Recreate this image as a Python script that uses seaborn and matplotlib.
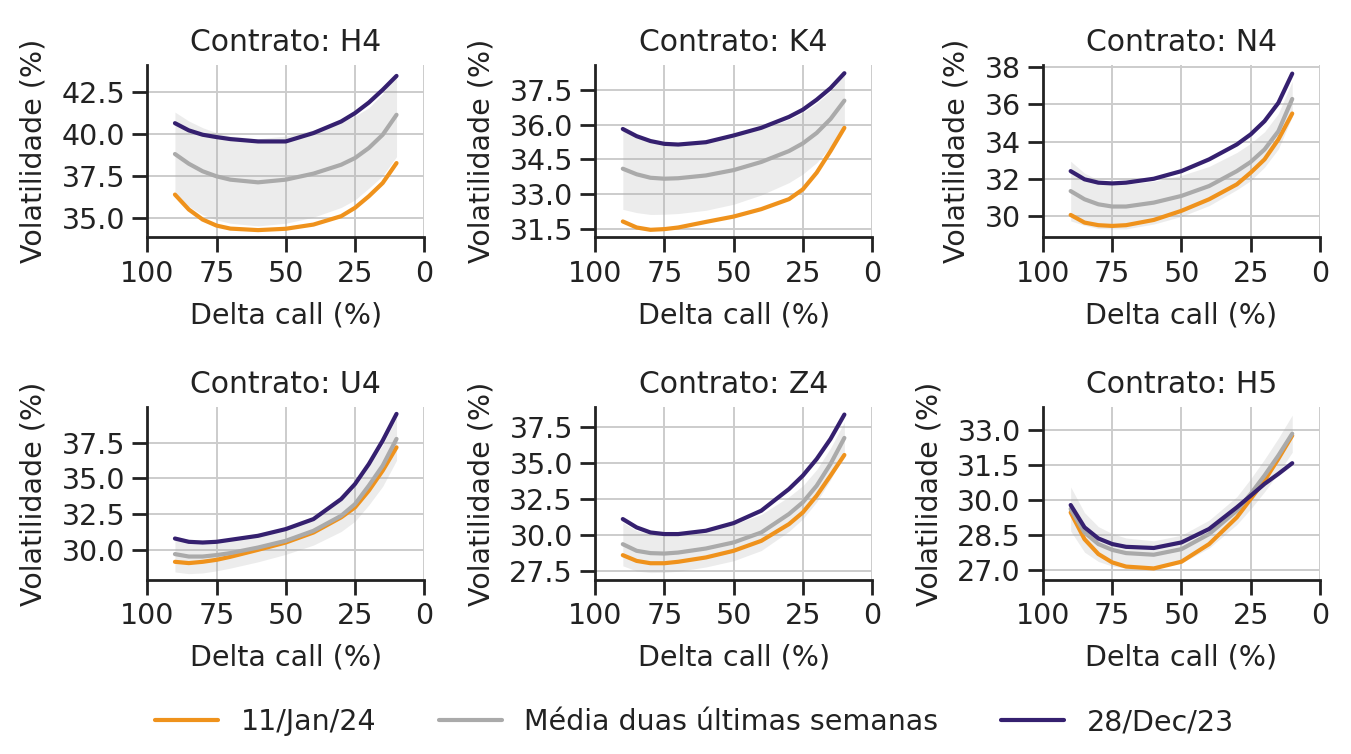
import pandas as pd
import numpy as np
import matplotlib
matplotlib.use('Agg')
import matplotlib.pyplot as plt
import seaborn as sns
from matplotlib.lines import Line2D

# --- DADOS ---
delta = [90, 85, 80, 75, 70, 60, 50, 40, 30, 25, 20, 15, 10]
contratos = ['H4', 'K4', 'N4', 'U4', 'Z4', 'H5']
series = ['11/Jan/24', 'Média duas últimas semanas', '28/Dec/23']

h4_jan = [36.41, 35.52, 34.92, 34.56, 34.38, 34.29, 34.37, 34.62, 35.12, 35.62, 36.31, 37.10, 38.29]
h4_media = [38.83, 38.25, 37.80, 37.50, 37.30, 37.14, 37.30, 37.66, 38.19, 38.59, 39.19, 39.98, 41.17]
h4_dec = [40.67, 40.24, 39.98, 39.84, 39.72, 39.58, 39.58, 40.08, 40.77, 41.27, 41.90, 42.66, 43.49]
h4_banda = [2.5, 2.55, 2.6, 2.6, 2.6, 2.6, 2.6, 2.6, 2.55, 2.5, 2.4, 2.45, 2.5]

k4_jan = [31.83, 31.57, 31.47, 31.50, 31.57, 31.81, 32.04, 32.36, 32.79, 33.21, 33.93, 34.86, 35.86]
k4_media = [34.10, 33.86, 33.71, 33.67, 33.69, 33.81, 34.04, 34.39, 34.86, 35.19, 35.64, 36.24, 37.03]
k4_dec = [35.81, 35.50, 35.29, 35.17, 35.14, 35.24, 35.53, 35.86, 36.33, 36.64, 37.07, 37.57, 38.21]
k4_banda = [1.75, 1.65, 1.58, 1.53, 1.52, 1.5, 1.47, 1.42, 1.36, 1.32, 1.28, 1.2, 1.1]

n4_jan = [30.07, 29.66, 29.52, 29.48, 29.52, 29.80, 30.29, 30.91, 31.71, 32.34, 33.05, 34.12, 35.51]
n4_media = [31.35, 30.91, 30.64, 30.52, 30.52, 30.73, 31.09, 31.62, 32.42, 32.91, 33.58, 34.56, 36.29]
n4_dec = [32.42, 31.98, 31.80, 31.76, 31.80, 32.01, 32.42, 33.05, 33.85, 34.39, 35.10, 36.08, 37.65]
n4_banda = [1.6, 1.4, 1.3, 1.2, 1.2, 1.15, 1.1, 1.05, 1.0, 1.0, 0.95, 0.95, 0.95]

u4_jan = [29.16, 29.07, 29.16, 29.30, 29.51, 30.00, 30.51, 31.21, 32.27, 32.97, 34.14, 35.54, 37.17]
u4_media = [29.70, 29.53, 29.53, 29.63, 29.77, 30.16, 30.63, 31.33, 32.38, 33.20, 34.49, 35.89, 37.76]
u4_dec = [30.79, 30.56, 30.51, 30.56, 30.70, 30.98, 31.45, 32.15, 33.55, 34.60, 36.00, 37.64, 39.51]
u4_banda = [1.25, 1.2, 1.15, 1.1, 1.05, 1.0, 0.95, 1.0, 1.1, 1.2, 1.35, 1.45, 1.5]

z4_jan = [28.59, 28.19, 28.03, 28.03, 28.13, 28.43, 28.89, 29.58, 30.74, 31.55, 32.71, 34.10, 35.53]
z4_media = [29.35, 28.89, 28.73, 28.70, 28.77, 29.05, 29.47, 30.16, 31.44, 32.25, 33.40, 34.91, 36.71]
z4_dec = [31.09, 30.51, 30.16, 30.05, 30.05, 30.28, 30.81, 31.67, 33.17, 34.10, 35.25, 36.64, 38.33]
z4_banda = [1.5, 1.4, 1.35, 1.3, 1.3, 1.28, 1.27, 1.25, 1.2, 1.15, 1.12, 1.1, 1.1]

h5_jan = [29.47, 28.32, 27.68, 27.32, 27.14, 27.06, 27.35, 28.11, 29.26, 30.05, 30.84, 31.78, 32.78]
h5_media = [29.62, 28.61, 28.11, 27.86, 27.72, 27.65, 27.89, 28.54, 29.55, 30.27, 31.06, 31.92, 32.86]
h5_dec = [29.79, 28.83, 28.35, 28.11, 27.99, 27.94, 28.18, 28.76, 29.69, 30.19, 30.70, 31.13, 31.59]
h5_banda = [0.95, 0.85, 0.75, 0.7, 0.65, 0.6, 0.6, 0.6, 0.6, 0.65, 0.7, 0.75, 0.8]

# ticks e limites do eixo y de cada contrato
yticks = {
    'H4': [35.0, 37.5, 40.0, 42.5],
    'K4': [31.5, 33.0, 34.5, 36.0, 37.5],
    'N4': [30, 32, 34, 36, 38],
    'U4': [30.0, 32.5, 35.0, 37.5],
    'Z4': [27.5, 30.0, 32.5, 35.0, 37.5],
    'H5': [27.0, 28.5, 30.0, 31.5, 33.0],
}
ylims = {
    'H4': (33.85, 44.15),
    'K4': (31.14, 38.57),
    'N4': (28.86, 38.12),
    'U4': (27.9, 39.98),
    'Z4': (26.88, 38.84),
    'H5': (26.57, 34.0),
}

dados = {
    'H4': (h4_jan, h4_media, h4_dec, h4_banda),
    'K4': (k4_jan, k4_media, k4_dec, k4_banda),
    'N4': (n4_jan, n4_media, n4_dec, n4_banda),
    'U4': (u4_jan, u4_media, u4_dec, u4_banda),
    'Z4': (z4_jan, z4_media, z4_dec, z4_banda),
    'H5': (h5_jan, h5_media, h5_dec, h5_banda),
}

cores = ['#EF921C', '#AAAAAA', '#35206F']

sns.set_style('ticks')
plt.rcParams['font.family'] = ['DejaVu Sans']
plt.rcParams['text.color'] = '#222222'
plt.rcParams['axes.labelcolor'] = '#222222'
plt.rcParams['xtick.color'] = '#222222'
plt.rcParams['ytick.color'] = '#222222'

FS = 20.5
LW = 3.0

fig, axes = plt.subplots(2, 3, figsize=(13.51, 7.54), dpi=100)
fig.subplots_adjust(left=0.109, right=0.977, top=0.914, bottom=0.231,
                    wspace=0.617, hspace=0.983)

for ax, c in zip(axes.flat, contratos):
    jan, media, dec, banda = dados[c]
    df = pd.DataFrame({
        'delta': delta * 3,
        'vol': jan + media + dec,
        'serie': [series[0]] * len(delta) + [series[1]] * len(delta) + [series[2]] * len(delta),
    })
    lo = np.array(media) - np.array(banda)
    hi = np.array(media) + np.array(banda)
    ax.fill_between(delta, lo, hi, color='#AAAAAA', alpha=0.22, linewidth=0, zorder=1)
    sns.lineplot(data=df, x='delta', y='vol', hue='serie', hue_order=series,
                 palette=cores, lw=LW, legend=False, ax=ax, zorder=3)

    ax.set_xlim(100, 0)
    ax.set_xticks([100, 75, 50, 25, 0])
    ax.set_yticks(yticks[c])
    ax.set_ylim(*ylims[c])
    ax.grid(True, color='#CCCCCC', linewidth=1.4, zorder=0)
    ax.set_axisbelow(True)
    for s in ['top', 'right']:
        ax.spines[s].set_visible(False)
    for s in ['left', 'bottom']:
        ax.spines[s].set_linewidth(2.0)
        ax.spines[s].set_color('#222222')
    ax.tick_params(length=11, width=2.0, labelsize=FS, pad=5)
    ax.set_title(f'Contrato: {c}', fontsize=FS + 1, pad=10)
    ax.set_xlabel('Delta call (%)', fontsize=FS, labelpad=10)
    ax.set_ylabel('Volatilidade (%)', fontsize=FS, labelpad=10)

handles = [Line2D([0], [0], color=cor, linewidth=LW) for cor in cores]
fig.legend(handles, series, loc='center', bbox_to_anchor=(0.514, 0.042), ncol=3,
           frameon=False, fontsize=FS, handlelength=2.2, handletextpad=0.8,
           columnspacing=2.2)

plt.savefig('out.png', dpi=100)
